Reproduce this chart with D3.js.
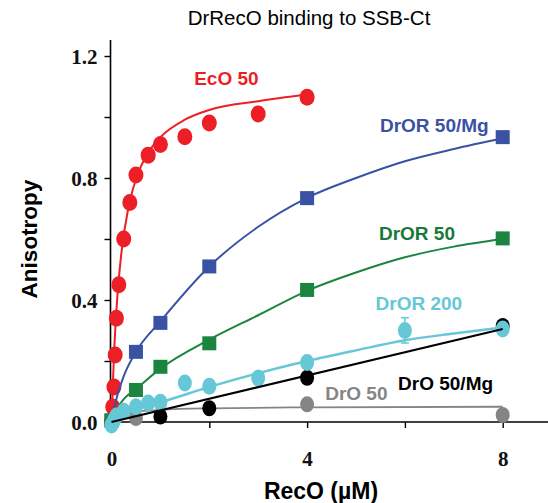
<!DOCTYPE html>
<html>
<head>
<meta charset="utf-8">
<script src="https://cdn.jsdelivr.net/npm/d3@7"></script>
<style>
  body { margin: 0; background: #fff; }
</style>
</head>
<body>
<div id="chart"></div>
<script>
// measured points, [RecO uM, anisotropy]
const ecoPoints = [[0, 0.0], [0.025, 0.049], [0.05, 0.115], [0.075, 0.22], [0.1, 0.34], [0.15, 0.45], [0.25, 0.6],
  [0.375, 0.72], [0.5, 0.81], [0.75, 0.875], [1, 0.91], [1.5, 0.935], [2, 0.98], [3, 1.01], [4, 1.065]];
const drorMgPoints = [[0, 0.005], [0.5, 0.23], [1, 0.325], [2, 0.51], [4, 0.734], [8, 0.934]];
const dror50Points = [[0, 0.005], [0.5, 0.105], [1, 0.181], [2, 0.258], [4, 0.433], [8, 0.602]];
const dror200Points = [[0, -0.01], [0.05, 0.005], [0.1, 0.02], [0.25, 0.035], [0.5, 0.05], [0.75, 0.062], [1, 0.065],
  [1.5, 0.128], [2, 0.117], [3, 0.144], [4, 0.195], [6, 0.30], [8, 0.305]];
const dror200Err = [[6, 0.259, 0.342]];
const droMgPoints = [[0, 0.005], [1, 0.018], [2, 0.045], [4, 0.145], [8, 0.315]];
const dro50Points = [[0, 0.0], [0.5, 0.013], [4, 0.058], [8, 0.023]];

// fit curves
const ecoFit = [[0, 0], [0.05, 0.217], [0.1, 0.365], [0.2, 0.551], [0.35, 0.706], [0.5, 0.796], [0.75, 0.883],
  [1, 0.934], [1.5, 0.991], [2, 1.023], [3, 1.052], [4, 1.074]];
const drorMgFit = [[0, 0], [0.1, 0.075], [0.25, 0.15], [0.5, 0.23], [1, 0.33], [2, 0.51], [3, 0.64], [4, 0.735],
  [5, 0.80], [6, 0.855], [7, 0.895], [8, 0.93]];
const dror50Fit = [[0, 0], [0.1, 0.04], [0.25, 0.075], [0.5, 0.108], [1, 0.175], [2, 0.27], [3, 0.35], [4, 0.43],
  [5, 0.49], [6, 0.54], [7, 0.575], [8, 0.60]];
const dror200Fit = [[0, 0], [0.25, 0.03], [0.5, 0.045], [1, 0.065], [2, 0.115], [3, 0.16], [4, 0.20], [5, 0.235],
  [6, 0.268], [7, 0.29], [8, 0.31]];
const droMgFit = [[0, 0], [8, 0.305]];
const dro50Fit = [[0, 0], [0.1, 0.015], [0.25, 0.025], [0.5, 0.033], [1, 0.04], [2, 0.045], [4, 0.048], [8, 0.05]];

const xTicks = [0, 2, 4, 6, 8];
const xTickLabels = ['0', '', '4', '', '8'];
const yTicks = [0, 0.2, 0.4, 0.6, 0.8, 1.0, 1.2];
const yTickLabels = ['0.0', '', '0.4', '', '0.8', '', '1.2'];

const width = 548, height = 503;

const x = d3.scaleLinear().domain([0, 8]).range([111.5, 502.7]);
const y = d3.scaleLinear().domain([0, 1.2]).range([422, 56]);

const svg = d3.select('#chart').append('svg')
  .attr('width', width)
  .attr('height', height)
  .attr('font-family', 'Arial, Liberation Sans, sans-serif');

// title
svg.append('text')
  .attr('x', 309)
  .attr('y', 25)
  .attr('text-anchor', 'middle')
  .attr('font-size', 20.5)
  .text('DrRecO binding to SSB-Ct');

// axes
const xAxis = svg.append('g')
  .attr('transform', `translate(0,${y(0)})`)
  .call(d3.axisBottom(x).tickValues(xTicks).tickSize(6).tickFormat((d, i) => xTickLabels[i]));
xAxis.select('.domain').attr('d', `M110,0H548`).attr('stroke-width', 1.6);
xAxis.selectAll('.tick line').attr('stroke-width', 1.4);
xAxis.selectAll('.tick text')
  .attr('y', 44)
  .attr('dy', 0)
  .attr('font-family', '"Liberation Serif", "Times New Roman", serif')
  .attr('font-weight', 'bold')
  .attr('font-size', 21)
  .attr('fill', '#111');

const yAxis = svg.append('g')
  .attr('transform', 'translate(110.5,0)')
  .call(d3.axisLeft(y).tickValues(yTicks).tickSize(6).tickFormat((d, i) => yTickLabels[i]));
yAxis.select('.domain').attr('d', `M0,40V${y(0)}`).attr('stroke-width', 1.6);
yAxis.selectAll('.tick line').attr('stroke-width', 1.4);
yAxis.selectAll('.tick text')
  .attr('x', -13)
  .attr('dy', '0.35em')
  .attr('font-family', '"Liberation Serif", "Times New Roman", serif')
  .attr('font-weight', 'bold')
  .attr('font-size', 21)
  .attr('fill', '#111');

svg.append('text')
  .attr('x', 321)
  .attr('y', 499)
  .attr('text-anchor', 'middle')
  .attr('font-size', 23)
  .attr('font-weight', 'bold')
  .text('RecO (µM)');

svg.append('text')
  .attr('transform', 'translate(37,239) rotate(-90)')
  .attr('text-anchor', 'middle')
  .attr('font-size', 22.5)
  .attr('font-weight', 'bold')
  .text('Anisotropy');

const line = d3.line()
  .x(d => x(d[0]))
  .y(d => y(d[1]))
  .curve(d3.curveMonotoneX);

const plot = svg.append('g');

function drawLine(fit, color, w) {
  plot.append('path')
    .datum(fit)
    .attr('d', line)
    .attr('fill', 'none')
    .attr('stroke', color)
    .attr('stroke-width', w || 2);
}

function drawCircles(points, color, rx, ry) {
  plot.append('g').selectAll('ellipse')
    .data(points)
    .join('ellipse')
    .attr('cx', d => x(d[0]))
    .attr('cy', d => y(d[1]))
    .attr('rx', rx)
    .attr('ry', ry)
    .attr('fill', color);
}

function drawSquares(points, color, s) {
  plot.append('g').selectAll('rect')
    .data(points)
    .join('rect')
    .attr('x', d => x(d[0]) - s / 2)
    .attr('y', d => y(d[1]) - s / 2)
    .attr('width', s)
    .attr('height', s)
    .attr('fill', color);
}

const red = '#ec1f27', blue = '#3a52a4', green = '#1b8540', cyan = '#66c7d6', gray = '#858585';

drawLine(dro50Fit, gray, 1.8);
drawCircles(dro50Points, gray, 7, 8);
drawCircles(droMgPoints, '#000', 7, 8);
drawLine(ecoFit, red);
drawCircles(ecoPoints, red, 7.5, 8.5);
drawLine(drorMgFit, blue);
drawSquares(drorMgPoints, blue, 14);
drawLine(dror50Fit, green);
drawSquares(dror50Points, green, 14);

// error bar on DrOR 200
dror200Err.forEach(e => {
  const g = plot.append('g').attr('stroke', cyan).attr('stroke-width', 1.5);
  g.append('line').attr('x1', x(e[0])).attr('x2', x(e[0])).attr('y1', y(e[1])).attr('y2', y(e[2]));
  g.append('line').attr('x1', x(e[0]) - 4).attr('x2', x(e[0]) + 4).attr('y1', y(e[1])).attr('y2', y(e[1]));
  g.append('line').attr('x1', x(e[0]) - 4).attr('x2', x(e[0]) + 4).attr('y1', y(e[2])).attr('y2', y(e[2]));
});
drawCircles(dror200Points, cyan, 7, 8.5);
drawLine(dror200Fit, cyan, 2.4);
drawLine(droMgFit, '#000', 2);

// series labels, anchored in data units
const labels = [
  { text: 'EcO 50', x: 1.69, y: 1.105, color: red },
  { text: 'DrOR 50/Mg', x: 5.49, y: 0.952, color: blue },
  { text: 'DrOR 50', x: 5.47, y: 0.597, color: '#177a39' },
  { text: 'DrOR 200', x: 5.40, y: 0.367, color: cyan },
  { text: 'DrO 50', x: 4.37, y: 0.072, color: gray },
  { text: 'DrO 50/Mg', x: 5.86, y: 0.105, color: '#000' }
];

svg.append('g').selectAll('text')
  .data(labels)
  .join('text')
  .attr('x', d => x(d.x))
  .attr('y', d => y(d.y))
  .attr('font-size', 19)
  .attr('font-weight', 'bold')
  .attr('fill', d => d.color)
  .text(d => d.text);
</script>
</body>
</html>
